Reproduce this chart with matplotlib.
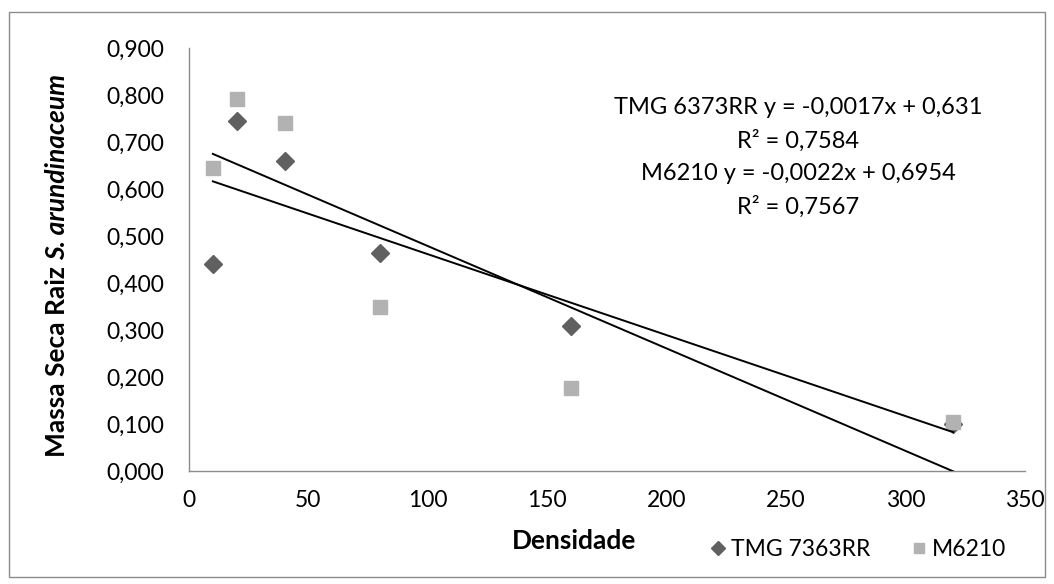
import numpy as np
import matplotlib
matplotlib.use("Agg")
import matplotlib.pyplot as plt
from matplotlib.patches import Rectangle
from matplotlib.ticker import FuncFormatter

# dados
densidade = [10, 20, 40, 80, 160, 320]
tmg = [0.440, 0.745, 0.660, 0.463, 0.308, 0.100]
m6210 = [0.645, 0.792, 0.740, 0.348, 0.177, 0.104]

eq_tmg = ["TMG 6373RR y = -0,0017x + 0,631", "R² = 0,7584"]
eq_m = ["M6210 y = -0,0022x + 0,6954", "R² = 0,7567"]

plt.rcParams["font.family"] = ["Lato", "DejaVu Sans"]

W, H = 1054, 584
fig = plt.figure(figsize=(W / 100, H / 100), dpi=100)
ax = fig.add_axes([189 / W, 1 - 471 / H, (1025 - 189) / W, (471 - 48) / H])

# moldura externa
fig.patches.append(Rectangle((9 / W, 7 / H), 1036 / W, 565 / H,
                             transform=fig.transFigure, fill=False,
                             edgecolor="#8c8c8c", linewidth=1))

c_dia = "#606060"
c_sq = "#b2b2b2"

ax.plot(densidade, tmg, linestyle="none", marker="D", ms=9, color=c_dia,
        label="TMG 7363RR", zorder=3)
ax.plot(densidade, m6210, linestyle="none", marker="s", ms=10.5, color=c_sq,
        label="M6210", zorder=3)

# linhas de tendência
xs = np.array([min(densidade), max(densidade)])
for serie in (tmg, m6210):
    a, b = np.polyfit(densidade, serie, 1)
    ax.plot(xs, a * xs + b, color="black", linewidth=1.4, zorder=4)

ax.set_xlim(0, 350)
ax.set_ylim(0, 0.9)
ax.set_xticks(np.arange(0, 351, 50))
ax.set_yticks(np.arange(0, 0.91, 0.1))
ax.yaxis.set_major_formatter(FuncFormatter(lambda v, p: f"{v:.3f}".replace(".", ",")))
ax.tick_params(length=0, labelsize=16.5)
ax.tick_params(axis="y", pad=18)
ax.tick_params(axis="x", pad=14)
for s in ("top", "right"):
    ax.spines[s].set_visible(False)
for s in ("left", "bottom"):
    ax.spines[s].set_color("#8c8c8c")
    ax.spines[s].set_linewidth(1)

# equações
linhas = eq_tmg + eq_m
for i, t in enumerate(linhas):
    fig.text(798 / W, 1 - (108 + i * 33) / H, t, ha="center", va="center",
             fontsize=17)

# títulos dos eixos
fig.text(574 / W, 1 - 541 / H, "Densidade", ha="center", va="center",
         fontsize=19, fontweight="bold")
t1 = fig.text(57 / W, 1 - 457 / H, "Massa Seca Raiz ", rotation=90,
              ha="center", va="bottom", fontsize=19, fontweight="bold")
ax.annotate("S. arundinaceum", xy=(0.5, 1.0), xycoords=t1, rotation=90,
            ha="center", va="bottom", fontsize=19, fontweight="bold",
            fontstyle="italic", annotation_clip=False)

leg = fig.legend(loc="center", bbox_to_anchor=(857 / W, 1 - 550 / H),
                 ncol=2, frameon=False, fontsize=16.5, handletextpad=0.1,
                 columnspacing=1.7, handlelength=0.9, markerscale=0.75)

fig.savefig("out.png", dpi=100)
